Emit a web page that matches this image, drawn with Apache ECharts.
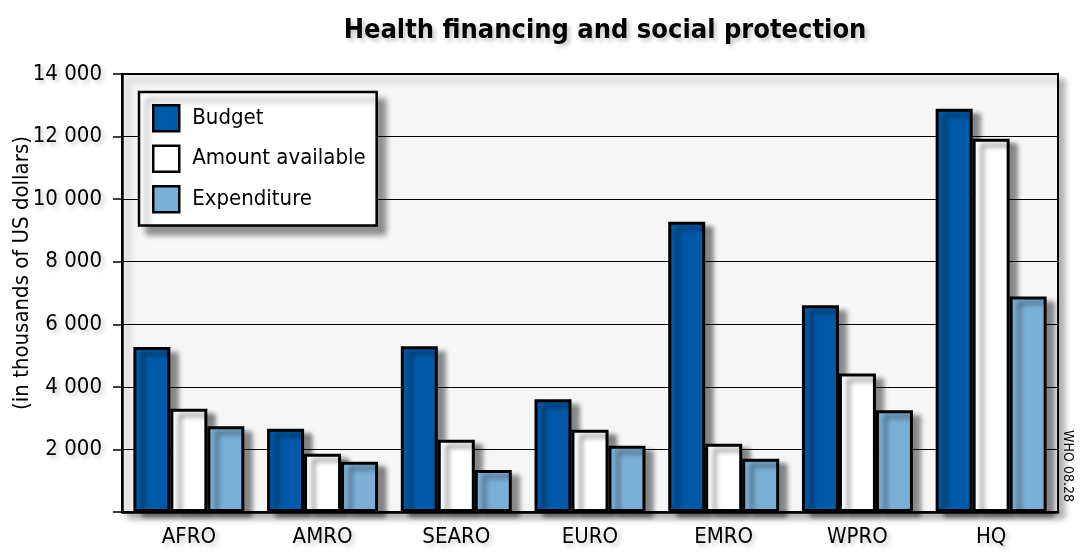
<!DOCTYPE html>
<html>
<head>
<meta charset="utf-8">
<title>Health financing and social protection</title>
<script src="https://cdn.jsdelivr.net/npm/echarts@6/dist/echarts.min.js"></script>
<style>
  html, body { margin: 0; padding: 0; background: #fff; }
  #chart { width: 1080px; height: 554px; }
</style>
</head>
<body>
<div id="chart"></div>
<script>
const categories = ['AFRO', 'AMRO', 'SEARO', 'EURO', 'EMRO', 'WPRO', 'HQ']
const budget = [5270, 2660, 5300, 3600, 9280, 6610, 12890]
const amountAvailable = [3300, 1860, 2310, 2630, 2180, 4430, 11930]
const expenditure = [2740, 1610, 1340, 2120, 1700, 3250, 6890]
const yTicks = [0, 2000, 4000, 6000, 8000, 10000, 12000, 14000]

const font = "'DejaVu Sans Condensed', 'Liberation Sans Narrow', sans-serif"
const textShadow = {
  textShadowColor: 'rgba(0,0,0,0.22)',
  textShadowBlur: 4,
  textShadowOffsetX: 3,
  textShadowOffsetY: 3
}
const barShadow = {
  borderColor: '#000',
  borderWidth: 3,
  shadowColor: 'rgba(0,0,0,0.45)',
  shadowBlur: 5,
  shadowOffsetX: 8,
  shadowOffsetY: 5
}

// 0 has no label in the original
const fmt = v => (v === 0 ? '' : String(v).replace(/\B(?=(\d{3})+(?!\d))/g, ' '))

const chart = echarts.init(document.getElementById('chart'))
chart.setOption({
  animation: false,
  title: {
    text: 'Health financing and social protection',
    left: 600,
    top: 12,
    textAlign: 'center',
    textStyle: {
      fontFamily: font,
      fontWeight: 'bold',
      fontSize: 27,
      color: '#000',
      ...textShadow
    }
  },
  legend: {
    orient: 'vertical',
    left: 139,
    top: 92,
    padding: [12, 11, 12, 13],
    itemWidth: 26,
    itemHeight: 26,
    itemGap: 12,
    icon: 'rect',
    backgroundColor: '#fff',
    borderColor: '#000',
    borderWidth: 2.5,
    shadowColor: 'rgba(0,0,0,0.4)',
    shadowBlur: 6,
    shadowOffsetX: 8,
    shadowOffsetY: 8,
    itemStyle: { borderWidth: 2.5, shadowBlur: 0, shadowOffsetX: 0, shadowOffsetY: 0, shadowColor: 'transparent' },
    textStyle: { fontFamily: font, fontSize: 22, color: '#000', padding: [0, 0, 0, 8] },
    data: ['Budget', 'Amount available', 'Expenditure']
  },
  grid: {
    left: 122,
    right: 22,
    top: 74,
    bottom: 42,
    show: true,
    backgroundColor: '#f6f6f6',
    borderColor: '#000',
    borderWidth: 2,
    shadowColor: 'rgba(0,0,0,0.3)',
    shadowBlur: 6,
    shadowOffsetX: 6,
    shadowOffsetY: 6
  },
  xAxis: {
    type: 'category',
    data: categories,
    axisLine: { lineStyle: { color: '#000', width: 2.5 } },
    axisTick: { show: false },
    axisLabel: { fontFamily: font, fontSize: 22, color: '#000', margin: 14, ...textShadow }
  },
  yAxis: {
    type: 'value',
    min: yTicks[0],
    max: yTicks[yTicks.length - 1],
    interval: yTicks[1] - yTicks[0],
    axisLine: { show: true, lineStyle: { color: '#000', width: 2.5 } },
    axisTick: { show: true, length: 9, lineStyle: { color: '#000', width: 1.5 } },
    splitLine: { lineStyle: { color: '#000', width: 1.2 } },
    axisLabel: {
      fontFamily: font, fontSize: 22, color: '#000', margin: 20,
      formatter: fmt, ...textShadow
    }
  },
  graphic: [
    {
      type: 'text',
      x: 22,
      y: 273,
      rotation: Math.PI / 2,
      style: {
        text: '(in thousands of US dollars)',
        fontFamily: font,
        fontSize: 22,
        fill: '#000',
        align: 'center',
        verticalAlign: 'middle'
      }
    },
    {
      type: 'text',
      x: 1068,
      y: 466,
      rotation: -Math.PI / 2,
      style: {
        text: 'WHO 08.28',
        fontFamily: font,
        fontSize: 14,
        fill: '#000',
        align: 'center',
        verticalAlign: 'middle'
      }
    }
  ],
  series: [
    {
      name: 'Budget',
      type: 'bar',
      data: budget,
      barGap: 0,
      barCategoryGap: '17%',
      itemStyle: { color: '#0059a7', ...barShadow }
    },
    {
      name: 'Amount available',
      type: 'bar',
      data: amountAvailable,
      itemStyle: { color: '#ffffff', ...barShadow }
    },
    {
      name: 'Expenditure',
      type: 'bar',
      data: expenditure,
      itemStyle: { color: '#7bafd6', ...barShadow }
    }
  ]
})
</script>
</body>
</html>
